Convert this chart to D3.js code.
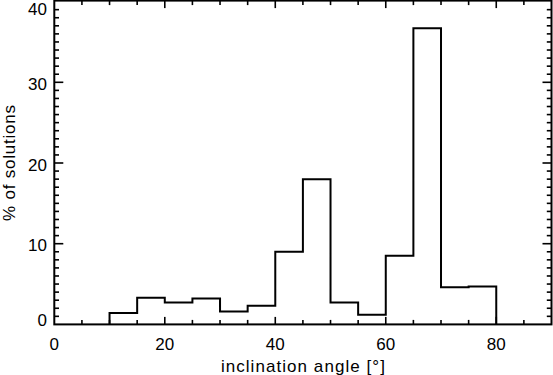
<!DOCTYPE html>
<html>
<head>
<meta charset="utf-8">
<script src="https://cdn.jsdelivr.net/npm/d3@7"></script>
<style>
  body { margin: 0; background: #fff; }
  text { font-family: 'Liberation Sans', Arial, sans-serif; fill: #000; }
</style>
</head>
<body>
<div id="chart"></div>
<script>
// histogram bins (inclination angle, degrees) and % of solutions per bin
const binEdges = [10, 15, 20, 25, 30, 35, 40, 45, 50, 55, 60, 65, 70, 75, 80]
const percents = [1.4, 3.3, 2.7, 3.2, 1.6, 2.3, 9.0, 18.0, 2.7, 1.2, 8.5, 36.7, 4.6, 4.7]
const xTicks = [0, 20, 40, 60, 80]
const yTicks = [0, 10, 20, 30, 40]
const xLabel = 'inclination angle [°]'
const yLabel = '% of solutions'

const W = 553
const H = 375
const pLeft = 54.3
const pRight = 551.5
const pTop = 1.6
const pBottom = 324.4

const svg = d3.select('#chart').append('svg')
  .attr('width', W)
  .attr('height', H)

const x = d3.scaleLinear().domain([0, 90]).range([pLeft, pRight])
const y = d3.scaleLinear().domain([0, 40]).range([pBottom, pTop])

// histogram as a stepped outline
const pts = [[binEdges[0], 0]]
percents.forEach(function (v, i) {
  pts.push([binEdges[i], v])
  pts.push([binEdges[i + 1], v])
})
pts.push([binEdges[binEdges.length - 1], 0])

svg.append('path')
  .attr('d', d3.line().x(d => x(d[0])).y(d => y(d[1]))(pts))
  .attr('fill', 'none')
  .attr('stroke', '#000')
  .attr('stroke-width', 2)

// frame
svg.append('rect')
  .attr('x', pLeft)
  .attr('y', pTop - 1)
  .attr('width', pRight - pLeft)
  .attr('height', pBottom - pTop + 1)
  .attr('fill', 'none')
  .attr('stroke', '#000')
  .attr('stroke-width', 2)

// x ticks (bottom and top), minor every 5
const g = svg.append('g').attr('stroke', '#000').attr('stroke-width', 1.6)
d3.range(5, 90, 5).forEach(function (v) {
  const len = v % 20 === 0 ? 7.5 : 4.5
  g.append('line').attr('x1', x(v)).attr('x2', x(v)).attr('y1', pBottom).attr('y2', pBottom - len)
  g.append('line').attr('x1', x(v)).attr('x2', x(v)).attr('y1', pTop - 1).attr('y2', pTop - 1 + len)
})
// y ticks (left and right), minor every 1
d3.range(1, 40, 1).forEach(function (v) {
  const len = v % 10 === 0 ? 9 : 4.7
  g.append('line').attr('y1', y(v)).attr('y2', y(v)).attr('x1', pLeft).attr('x2', pLeft + len)
  g.append('line').attr('y1', y(v)).attr('y2', y(v)).attr('x1', pRight).attr('x2', pRight - len)
})

svg.selectAll('.xt')
  .data(xTicks)
  .enter().append('text')
  .attr('class', 'xt')
  .attr('x', d => x(d))
  .attr('y', 349.5)
  .attr('text-anchor', 'middle')
  .attr('font-size', 17)
  .text(d => d)

// end labels are nudged inward so they stay on the page
svg.selectAll('.yt')
  .data(yTicks)
  .enter().append('text')
  .attr('class', 'yt')
  .attr('x', 47)
  .attr('y', d => d === 40 ? 14.5 : d === 0 ? 326 : y(d) + 7.5)
  .attr('text-anchor', 'end')
  .attr('font-size', 17)
  .text(d => d)

svg.append('text')
  .attr('x', (pLeft + pRight) / 2)
  .attr('y', 371.5)
  .attr('text-anchor', 'middle')
  .attr('font-size', 17)
  .attr('textLength', 164)
  .attr('lengthAdjust', 'spacing')
  .text(xLabel)

svg.append('text')
  .attr('transform', 'translate(15,' + ((pTop + pBottom) / 2) + ') rotate(-90)')
  .attr('text-anchor', 'middle')
  .attr('font-size', 17)
  .attr('textLength', 116)
  .attr('lengthAdjust', 'spacing')
  .text(yLabel)
</script>
</body>
</html>
